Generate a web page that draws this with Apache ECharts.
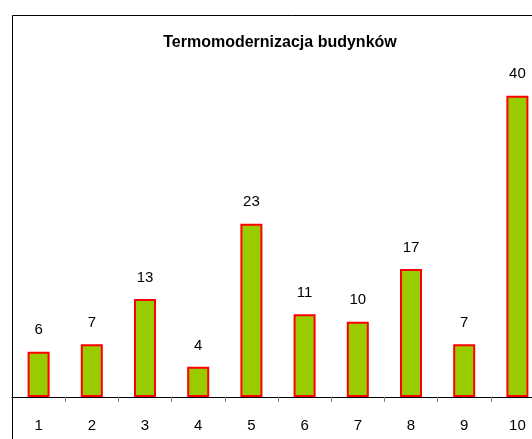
<!DOCTYPE html>
<html>
<head>
<meta charset="utf-8">
<script src="https://cdn.jsdelivr.net/npm/echarts@6/dist/echarts.min.js"></script>
<style>html,body{margin:0;padding:0;background:#fff;overflow:hidden}#c{width:570px;height:439px}</style>
</head>
<body>
<div id="c"></div>
<script>
const titleText = "Termomodernizacja budynków";
const categories = ["1", "2", "3", "4", "5", "6", "7", "8", "9", "10"];
const values = [6, 7, 13, 4, 23, 11, 10, 17, 7, 40];

const chart = echarts.init(document.getElementById('c'), null, {renderer: 'canvas'});
chart.setOption({
  animation: false,
  backgroundColor: '#ffffff',
  title: {
    text: titleText,
    left: 280,
    textAlign: 'center',
    top: 35,
    padding: 0,
    textStyle: {fontFamily: 'Liberation Sans, Arial, sans-serif', fontSize: 16, fontWeight: 'bold', color: '#000'}
  },
  graphic: [{
    type: 'rect', z: 100, silent: true,
    shape: {x: 12.5, y: 15.5, width: 700, height: 600},
    style: {fill: 'none', stroke: '#000', lineWidth: 1}
  }],
  grid: {left: 12, top: 58, width: 532, height: 339, containLabel: false},
  xAxis: {
    type: 'category',
    data: categories,
    boundaryGap: true,
    axisLine: {show: true, lineStyle: {color: '#000', width: 1}},
    axisTick: {show: true, inside: false, length: 5, alignWithLabel: false, lineStyle: {color: '#808080'}},
    axisLabel: {margin: 21, color: '#000', fontSize: 15, fontFamily: 'Liberation Sans, Arial, sans-serif', interval: 0},
    splitLine: {show: false}
  },
  yAxis: {
    type: 'value', min: 0, max: 45, show: false,
    splitLine: {show: false}
  },
  series: [{
    type: 'bar',
    data: values,
    barWidth: 22,
    itemStyle: {color: '#99CC00', borderColor: '#FF0000', borderWidth: 2},
    label: {show: true, position: 'top', distance: 14, color: '#000', fontSize: 15, fontFamily: 'Liberation Sans, Arial, sans-serif'}
  }]
});
</script>
</body>
</html>
